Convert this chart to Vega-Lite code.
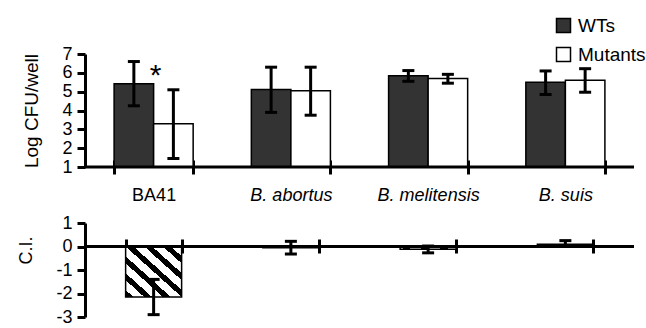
{
  "$schema": "https://vega.github.io/schema/vega-lite/v6.json",
  "padding": {"left": 17, "top": 16, "right": 5, "bottom": 2},
  "spacing": 56,
  "bounds": "flush",
  "config": {
    "font": "Liberation Sans",
    "view": {"stroke": null},
    "axis": {"domainColor": "black", "tickColor": "black", "labelColor": "black", "titleColor": "black", "grid": false, "domainWidth": 3, "tickWidth": 3, "titleFontWeight": "normal", "labelOverlap": false}
  },
  "datasets": {
    "cfu": [
      {"strain": "BA41", "group": "WTs", "mean": 5.42, "lo": 4.25, "hi": 6.6},
      {"strain": "BA41", "group": "Mutants", "mean": 3.3, "lo": 1.45, "hi": 5.1},
      {"strain": "B. abortus", "group": "WTs", "mean": 5.12, "lo": 3.9, "hi": 6.3},
      {"strain": "B. abortus", "group": "Mutants", "mean": 5.05, "lo": 3.75, "hi": 6.3},
      {"strain": "B. melitensis", "group": "WTs", "mean": 5.85, "lo": 5.55, "hi": 6.12},
      {"strain": "B. melitensis", "group": "Mutants", "mean": 5.7, "lo": 5.45, "hi": 5.92},
      {"strain": "B. suis", "group": "WTs", "mean": 5.5, "lo": 4.85, "hi": 6.1},
      {"strain": "B. suis", "group": "Mutants", "mean": 5.6, "lo": 4.97, "hi": 6.22}
    ],
    "ci": [
      {"strain": "BA41", "ci": -2.15, "lo": -2.9, "hi": -1.4},
      {"strain": "B. abortus", "ci": -0.05, "lo": -0.32, "hi": 0.22},
      {"strain": "B. melitensis", "ci": -0.12, "lo": -0.27, "hi": 0.02},
      {"strain": "B. suis", "ci": 0.1, "lo": 0.0, "hi": 0.25}
    ],
    "note": [{"strain": "BA41", "label": "*", "y": 5.85}],
    "base": [{"level": 1}],
    "zero": [{"level": 0}]
  },
  "vconcat": [
    {
      "width": 549,
      "height": 113,
      "encoding": {
        "x": {
          "field": "strain", "type": "nominal", "sort": null,
          "scale": {"paddingInner": 0.424, "paddingOuter": 0.212},
          "axis": {
            "title": null, "orient": "bottom", "offset": -7, "tickSize": 14, "tickBand": "extent",
            "domain": false, "labelPadding": 12, "labelFontSize": 18, "labelAngle": 0,
            "labelFontStyle": {"condition": {"test": "datum.value == 'BA41'", "value": "normal"}, "value": "italic"}
          }
        }
      },
      "layer": [
        {
          "data": {"name": "cfu"},
          "mark": {"type": "bar", "stroke": "black", "strokeWidth": 1.5},
          "encoding": {
            "xOffset": {"field": "group", "type": "nominal", "sort": ["WTs", "Mutants"]},
            "y": {
              "field": "mean", "type": "quantitative",
              "scale": {"domain": [1, 7]},
              "axis": {"title": "Log CFU/well", "titleFontSize": 19, "titlePadding": 20, "values": [1, 2, 3, 4, 5, 6, 7], "tickCount": 7, "tickSize": 8, "labelFontSize": 18, "labelPadding": 5, "labelOverlap": false}
            },
            "y2": {"datum": 1},
            "color": {
              "field": "group", "type": "nominal",
              "scale": {"domain": ["WTs", "Mutants"], "range": ["#333333", "#ffffff"]},
              "legend": {
                "orient": "none", "legendX": 469, "legendY": -38, "title": null, "symbolType": "square",
                "symbolSize": 196, "symbolStrokeColor": "black", "symbolStrokeWidth": 1.5,
                "labelFontSize": 19, "labelOffset": 5, "rowPadding": 8, "padding": 0
              }
            }
          }
        },
        {
          "data": {"name": "cfu"},
          "mark": {"type": "rule", "strokeWidth": 3, "color": "black"},
          "encoding": {
            "xOffset": {"field": "group", "type": "nominal", "sort": ["WTs", "Mutants"]},
            "y": {"field": "lo", "type": "quantitative", "axis": {"title": "Log CFU/well", "titleFontSize": 19, "titlePadding": 20, "values": [1, 2, 3, 4, 5, 6, 7], "tickCount": 7, "tickSize": 8, "labelFontSize": 18, "labelPadding": 5, "labelOverlap": false}},
            "y2": {"field": "hi"}
          }
        },
        {
          "data": {"name": "cfu"},
          "mark": {"type": "tick", "orient": "horizontal", "size": 12, "thickness": 3, "color": "black", "opacity": 1},
          "encoding": {
            "xOffset": {"field": "group", "type": "nominal", "sort": ["WTs", "Mutants"]},
            "y": {"field": "lo", "type": "quantitative", "axis": {"title": "Log CFU/well", "titleFontSize": 19, "titlePadding": 20, "values": [1, 2, 3, 4, 5, 6, 7], "tickCount": 7, "tickSize": 8, "labelFontSize": 18, "labelPadding": 5, "labelOverlap": false}}
          }
        },
        {
          "data": {"name": "cfu"},
          "mark": {"type": "tick", "orient": "horizontal", "size": 12, "thickness": 3, "color": "black", "opacity": 1},
          "encoding": {
            "xOffset": {"field": "group", "type": "nominal", "sort": ["WTs", "Mutants"]},
            "y": {"field": "hi", "type": "quantitative", "axis": {"title": "Log CFU/well", "titleFontSize": 19, "titlePadding": 20, "values": [1, 2, 3, 4, 5, 6, 7], "tickCount": 7, "tickSize": 8, "labelFontSize": 18, "labelPadding": 5, "labelOverlap": false}}
          }
        },
        {
          "data": {"name": "base"},
          "mark": {"type": "rule", "strokeWidth": 3, "color": "black"},
          "encoding": {
            "x": null,
            "y": {"field": "level", "type": "quantitative", "axis": {"title": "Log CFU/well", "titleFontSize": 19, "titlePadding": 20, "values": [1, 2, 3, 4, 5, 6, 7], "tickCount": 7, "tickSize": 8, "labelFontSize": 18, "labelPadding": 5, "labelOverlap": false}}
          }
        },
        {
          "data": {"name": "note"},
          "mark": {"type": "text", "fontSize": 30, "baseline": "middle", "dx": 2, "color": "black"},
          "encoding": {
            "y": {"field": "y", "type": "quantitative", "axis": {"title": "Log CFU/well", "titleFontSize": 19, "titlePadding": 20, "values": [1, 2, 3, 4, 5, 6, 7], "tickCount": 7, "tickSize": 8, "labelFontSize": 18, "labelPadding": 5, "labelOverlap": false}},
            "text": {"field": "label"}
          }
        }
      ]
    },
    {
      "width": 549,
      "height": 94,
      "encoding": {
        "x": {
          "field": "strain", "type": "nominal", "sort": null,
          "scale": {"paddingInner": 0.592, "paddingOuter": 0.296},
          "axis": {"title": null, "orient": "top", "offset": -30, "tickSize": 14, "tickBand": "extent", "domain": false, "labels": false}
        }
      },
      "layer": [
        {
          "data": {"name": "ci"},
          "mark": {
            "type": "bar", "stroke": "black", "strokeWidth": 1.5,
            "fill": {
              "gradient": "linear", "x1": 0, "y1": 1, "x2": 1, "y2": 0,
              "stops": [
                {"offset": 0, "color": "black"}, {"offset": 0.07, "color": "black"},
                {"offset": 0.07, "color": "white"}, {"offset": 0.1667, "color": "white"},
                {"offset": 0.1667, "color": "black"}, {"offset": 0.2367, "color": "black"},
                {"offset": 0.2367, "color": "white"}, {"offset": 0.3333, "color": "white"},
                {"offset": 0.3333, "color": "black"}, {"offset": 0.4033, "color": "black"},
                {"offset": 0.4033, "color": "white"}, {"offset": 0.5, "color": "white"},
                {"offset": 0.5, "color": "black"}, {"offset": 0.57, "color": "black"},
                {"offset": 0.57, "color": "white"}, {"offset": 0.6667, "color": "white"},
                {"offset": 0.6667, "color": "black"}, {"offset": 0.7367, "color": "black"},
                {"offset": 0.7367, "color": "white"}, {"offset": 0.8333, "color": "white"},
                {"offset": 0.8333, "color": "black"}, {"offset": 0.9033, "color": "black"},
                {"offset": 0.9033, "color": "white"}, {"offset": 1, "color": "white"}
              ]
            }
          },
          "encoding": {
            "y": {
              "field": "ci", "type": "quantitative",
              "scale": {"domain": [-3, 1]},
              "axis": {"title": "C.I.", "titleFontSize": 18, "titlePadding": 20, "titleY": 27, "values": [-3, -2, -1, 0, 1], "tickCount": 5, "tickSize": 8, "labelFontSize": 18, "labelPadding": 5, "labelOverlap": false, "labelExpr": "replace(datum.label, '\u2212', '-')"}
            },
            "y2": {"datum": 0}
          }
        },
        {
          "data": {"name": "ci"},
          "mark": {"type": "rule", "strokeWidth": 3, "color": "black"},
          "encoding": {
            "y": {"field": "lo", "type": "quantitative", "axis": {"title": "C.I.", "titleFontSize": 18, "titlePadding": 20, "titleY": 27, "values": [-3, -2, -1, 0, 1], "tickCount": 5, "tickSize": 8, "labelFontSize": 18, "labelPadding": 5, "labelOverlap": false, "labelExpr": "replace(datum.label, '\u2212', '-')"}},
            "y2": {"field": "hi"}
          }
        },
        {
          "data": {"name": "ci"},
          "mark": {"type": "tick", "orient": "horizontal", "size": 12, "thickness": 3, "color": "black", "opacity": 1},
          "encoding": {
            "y": {"field": "lo", "type": "quantitative", "axis": {"title": "C.I.", "titleFontSize": 18, "titlePadding": 20, "titleY": 27, "values": [-3, -2, -1, 0, 1], "tickCount": 5, "tickSize": 8, "labelFontSize": 18, "labelPadding": 5, "labelOverlap": false, "labelExpr": "replace(datum.label, '\u2212', '-')"}}
          }
        },
        {
          "data": {"name": "ci"},
          "mark": {"type": "tick", "orient": "horizontal", "size": 12, "thickness": 3, "color": "black", "opacity": 1},
          "encoding": {
            "y": {"field": "hi", "type": "quantitative", "axis": {"title": "C.I.", "titleFontSize": 18, "titlePadding": 20, "titleY": 27, "values": [-3, -2, -1, 0, 1], "tickCount": 5, "tickSize": 8, "labelFontSize": 18, "labelPadding": 5, "labelOverlap": false, "labelExpr": "replace(datum.label, '\u2212', '-')"}}
          }
        },
        {
          "data": {"name": "zero"},
          "mark": {"type": "rule", "strokeWidth": 3, "color": "black"},
          "encoding": {
            "x": null,
            "y": {"field": "level", "type": "quantitative", "axis": {"title": "C.I.", "titleFontSize": 18, "titlePadding": 20, "titleY": 27, "values": [-3, -2, -1, 0, 1], "tickCount": 5, "tickSize": 8, "labelFontSize": 18, "labelPadding": 5, "labelOverlap": false, "labelExpr": "replace(datum.label, '\u2212', '-')"}}
          }
        }
      ]
    }
  ]
}
